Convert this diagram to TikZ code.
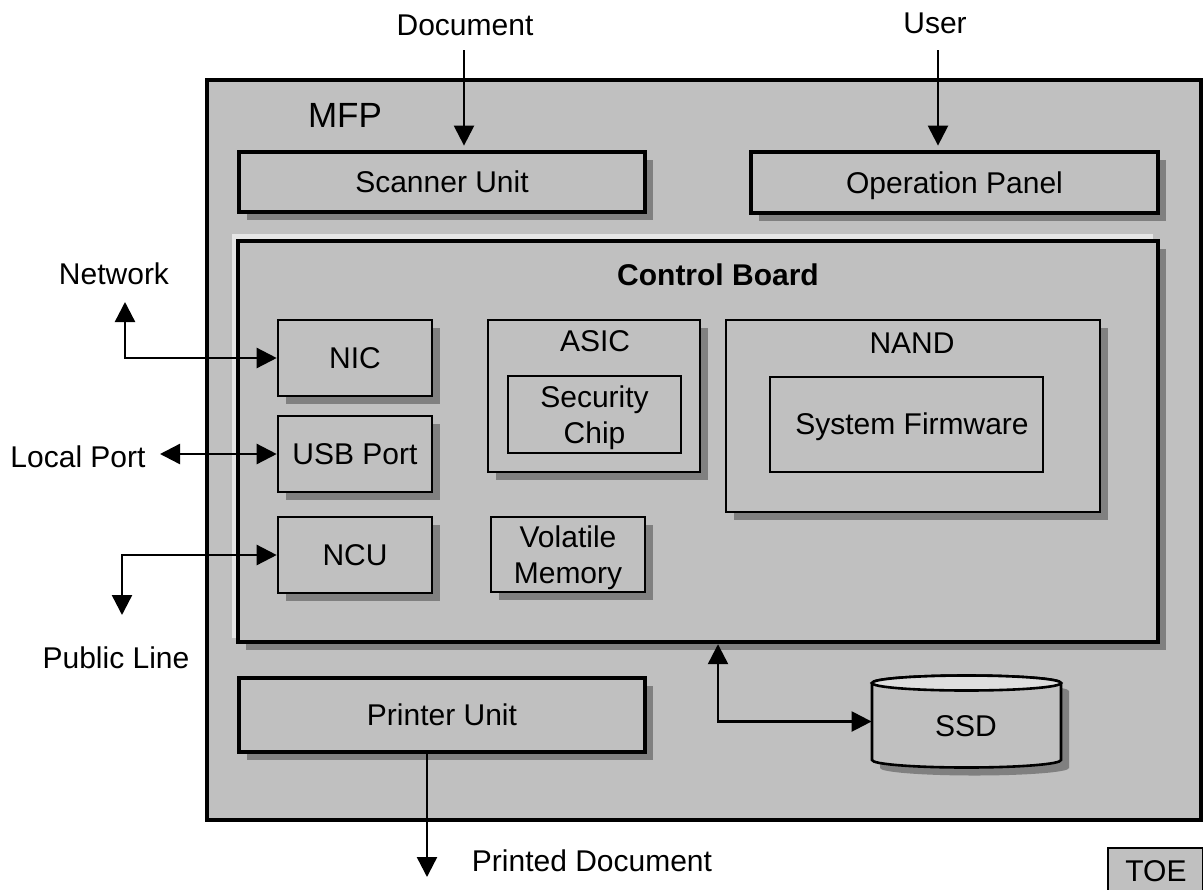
\documentclass[tikz,border=0pt]{standalone}
\usepackage{fontspec}
\setmainfont{Liberation Sans}
\usetikzlibrary{fit,shadows,arrows.meta}
\definecolor{boxgray}{HTML}{C0C0C0}
\definecolor{shgray}{HTML}{808080}
\definecolor{hlgray}{HTML}{E6E6E6}
\definecolor{topgray}{HTML}{DEDEDE}
\begin{document}
\begin{tikzpicture}[x=0.5pt,y=-0.5pt,
 every node/.style={font=\fontsize{15}{18}\selectfont, text depth=0pt},
 sh/.style={drop shadow={shadow xshift=4pt,shadow yshift=-4pt,fill=shgray,opacity=1}},
 bigbox/.style={draw,line width=2.4pt,fill=boxgray,inner sep=0pt,sh},
 smallbox/.style={draw,line width=1.3pt,fill=boxgray,inner sep=0pt,sh},
 plainbox/.style={draw,line width=1.3pt,fill=boxgray,inner sep=0pt},
 conn/.style={line width=1.2pt,-{Triangle[length=10pt,width=10pt]}},
 conntwo/.style={line width=1.2pt,{Triangle[length=10pt,width=10pt]}-{Triangle[length=10pt,width=10pt]}},
 lbl/.style={inner sep=0pt,align=center}]
\useasboundingbox (0,0) rectangle (1203,889);
\fill[white] (0,0) rectangle (1203,889);

% MFP frame
\node[draw,line width=2pt,fill=boxgray,inner sep=0pt,fit={(207,80) (1201,820)}] (mfp) {};
\node[lbl,font=\fontsize{17.5}{20}\selectfont] (mfplbl) at (345,115) {MFP};
\node[bigbox,fit={(239,152) (645,212)}] (scan) {};
\node[lbl] (scanlbl) at (scan.center) {Scanner Unit};
\node[bigbox,fit={(751,152) (1158,213)}] (op) {};
\node[lbl] (oplbl) at (op.center) {Operation Panel};

% Control board
\node[fill=hlgray,inner sep=0pt,fit={(232,234) (1153,638)}] (hl) {};
\node[draw,line width=2.2pt,fill=boxgray,inner sep=0pt,sh,fit={(238,241) (1158,642)}] (cb) {};
\node[lbl,font=\bfseries\fontsize{15}{18}\selectfont] (cblbl) at (718,275) {Control Board};

\node[smallbox,fit={(278,320) (432,396)}] (nic) {};
\node[lbl] (niclbl) at (nic.center) {NIC};
\node[smallbox,fit={(278,416) (432,492)}] (usb) {};
\node[lbl] (usblbl) at (usb.center) {USB Port};
\node[smallbox,fit={(278,517) (432,593)}] (ncu) {};
\node[lbl] (ncului) at (ncu.center) {NCU};

\node[smallbox,fit={(488,320) (700,472)}] (asic) {};
\node[lbl] (asiclbl) at (595,341) {ASIC};
\node[plainbox,fit={(508,376) (681,453)}] (sec) {};
\node[lbl] (seclbl) at (sec.center) {Security\\Chip};

\node[smallbox,fit={(726,320) (1100,512)}] (nand) {};
\node[lbl] (nandlbl) at (912,343) {NAND};
\node[plainbox,fit={(770,377) (1043,472)}] (fw) {};
\node[lbl] (fwlbl) at (912,424) {System Firmware};

\node[smallbox,fit={(491,517) (645,592)}] (vol) {};
\node[lbl] (vollbl) at (vol.center) {Volatile\\Memory};

\node[bigbox,fit={(239,678) (645,752)}] (prn) {};
\node[lbl] (prnlbl) at (prn.center) {Printer Unit};

% SSD cylinder
\node[inner sep=0pt,fit={(872,675) (1061,768)}] (ssd) {};
\begin{scope}[xshift=4pt,yshift=-4pt]
\fill[shgray] (872,683) -- (872,760) arc[start angle=180,end angle=360,x radius=47.25pt,y radius=3.75pt] -- (1061,683) arc[start angle=0,end angle=180,x radius=47.25pt,y radius=3.75pt] -- cycle;
\end{scope}
\filldraw[fill=boxgray,line width=1.3pt] (872,683) -- (872,760) arc[start angle=180,end angle=360,x radius=47.25pt,y radius=3.75pt] -- (1061,683) arc[start angle=0,end angle=180,x radius=47.25pt,y radius=3.75pt] -- cycle;
\filldraw[fill=topgray,line width=1.3pt] (966.5,683) ellipse[x radius=47.25pt,y radius=3.75pt];
\node[lbl] (ssdlbl) at (966,726) {SSD};

% TOE
\node[draw,line width=1.3pt,fill=boxgray,inner sep=0pt,fit={(1108,848) (1203,895)}] (toe) {};
\node[lbl] (toelbl) at (1156,871) {TOE};

% outside labels
\node[lbl] (doc) at (465,25) {Document};
\node[lbl] (user) at (935,23) {User};
\node[lbl] (netl) at (114,274) {Network};
\node[lbl] (lpl) at (78,457) {Local Port};
\node[lbl] (pll) at (116,658) {Public Line};
\node[lbl] (pdl) at (592,861) {Printed Document};

% connectors
\coordinate (docsrc) at (464,50);
\draw[conn,shorten >=2pt] (docsrc) -- (docsrc |- scan.north);
\coordinate (usersrc) at (938,50);
\draw[conn,shorten >=2pt] (usersrc) -- (usersrc |- op.north);
\coordinate (net) at (125,302);
\draw[conntwo] (net) |- (nic.west);
\coordinate (lp) at (160,454);
\draw[conntwo] (lp) -- (usb.west);
\coordinate (pl) at (122,615);
\draw[conntwo] (pl) |- (ncu.west);
\coordinate (pd) at (427,877);
\draw[conn] (prn.south -| pd) -- (pd);
\coordinate (sc) at (718,719);
\draw[conntwo] (cb.south -| sc) |- (ssd.west);
\end{tikzpicture}
\end{document}
